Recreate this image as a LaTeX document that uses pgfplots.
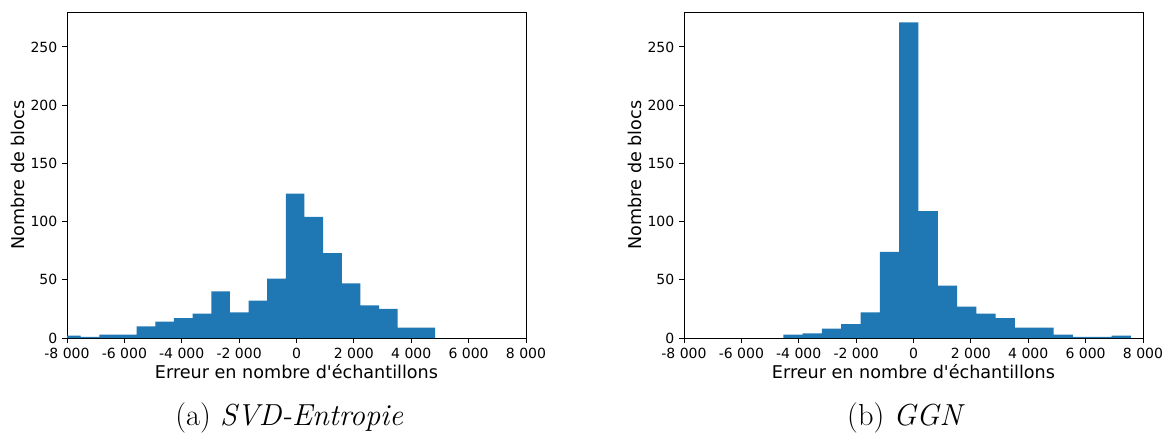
\documentclass[border=0pt]{standalone}
\usepackage{fontspec}
\usepackage{pgfplots}
\usepackage{pgfplotstable}
\pgfplotsset{compat=1.18}
\newfontfamily\dejavu{DejaVu Sans}
\definecolor{mplblue}{HTML}{1F77B4}

\pgfplotstableread{
x y
-8171 2
-7521 1
-6871 3
-6221 3
-5571 10
-4921 14
-4271 17
-3621 21
-2971 40
-2321 22
-1671 32
-1021 51
-371 124
279 104
929 73
1579 47
2229 28
2879 25
3529 9
4179 9
4829 9
}\dataA

\pgfplotstableread{
x y
-4538 3
-3865 4
-3192 8
-2519 12
-1846 22
-1173 74
-500 271
173 109
846 45
1519 27
2192 21
2865 17
3538 9
4211 9
4884 3
5557 1
6230 1
6903 2
7576 2
}\dataB

\pgfplotsset{
  histax/.style={
    scale only axis,
    width=344.25pt, height=244.5pt,
    xmin=-8000, xmax=8000, ymin=0, ymax=280,
    xtick={-8000,-6000,-4000,-2000,0,2000,4000,6000,8000},
    xticklabels={-8 000,-6 000,-4 000,-2 000,0,2 000,4 000,6 000,8 000},
    ytick={0,50,100,150,200,250},
    yticklabels={0,50,100,150,200,250},
    tick align=outside, xtick pos=bottom, ytick pos=left,
    major tick length=3.75pt,
    tick style={black, line width=0.7pt},
    axis line style={line width=0.7pt},
    ticklabel style={font=\dejavu\fontsize{10.5}{12}\selectfont},
    label style={font=\dejavu\fontsize{13.2}{15}\selectfont},
    xlabel={Erreur en nombre d\textquotesingle échantillons},
    ylabel={Nombre de blocs},
    xlabel style={yshift=2.5pt},
    ylabel style={yshift=-2.25pt},
    anchor=south west,
  }
}

\begin{document}
\begin{tikzpicture}[x=1pt,y=1pt]
\useasboundingbox (0,0) rectangle (875.25pt,324.75pt);
\begin{axis}[histax, at={(50.25pt,71.25pt)}]
\addplot[ybar interval, fill=mplblue, draw=none] table[x=x,y=y] {\dataA};
\end{axis}
\begin{axis}[histax, at={(513pt,71.25pt)}]
\addplot[ybar interval, fill=mplblue, draw=none] table[x=x,y=y] {\dataB};
\end{axis}
\node at (217pt,11pt) {\fontsize{22.8}{25}\selectfont (a) \textit{SVD-Entropie}};
\node at (679.5pt,11pt) {\fontsize{22.8}{25}\selectfont (b) \textit{GGN}};
\end{tikzpicture}
\end{document}
